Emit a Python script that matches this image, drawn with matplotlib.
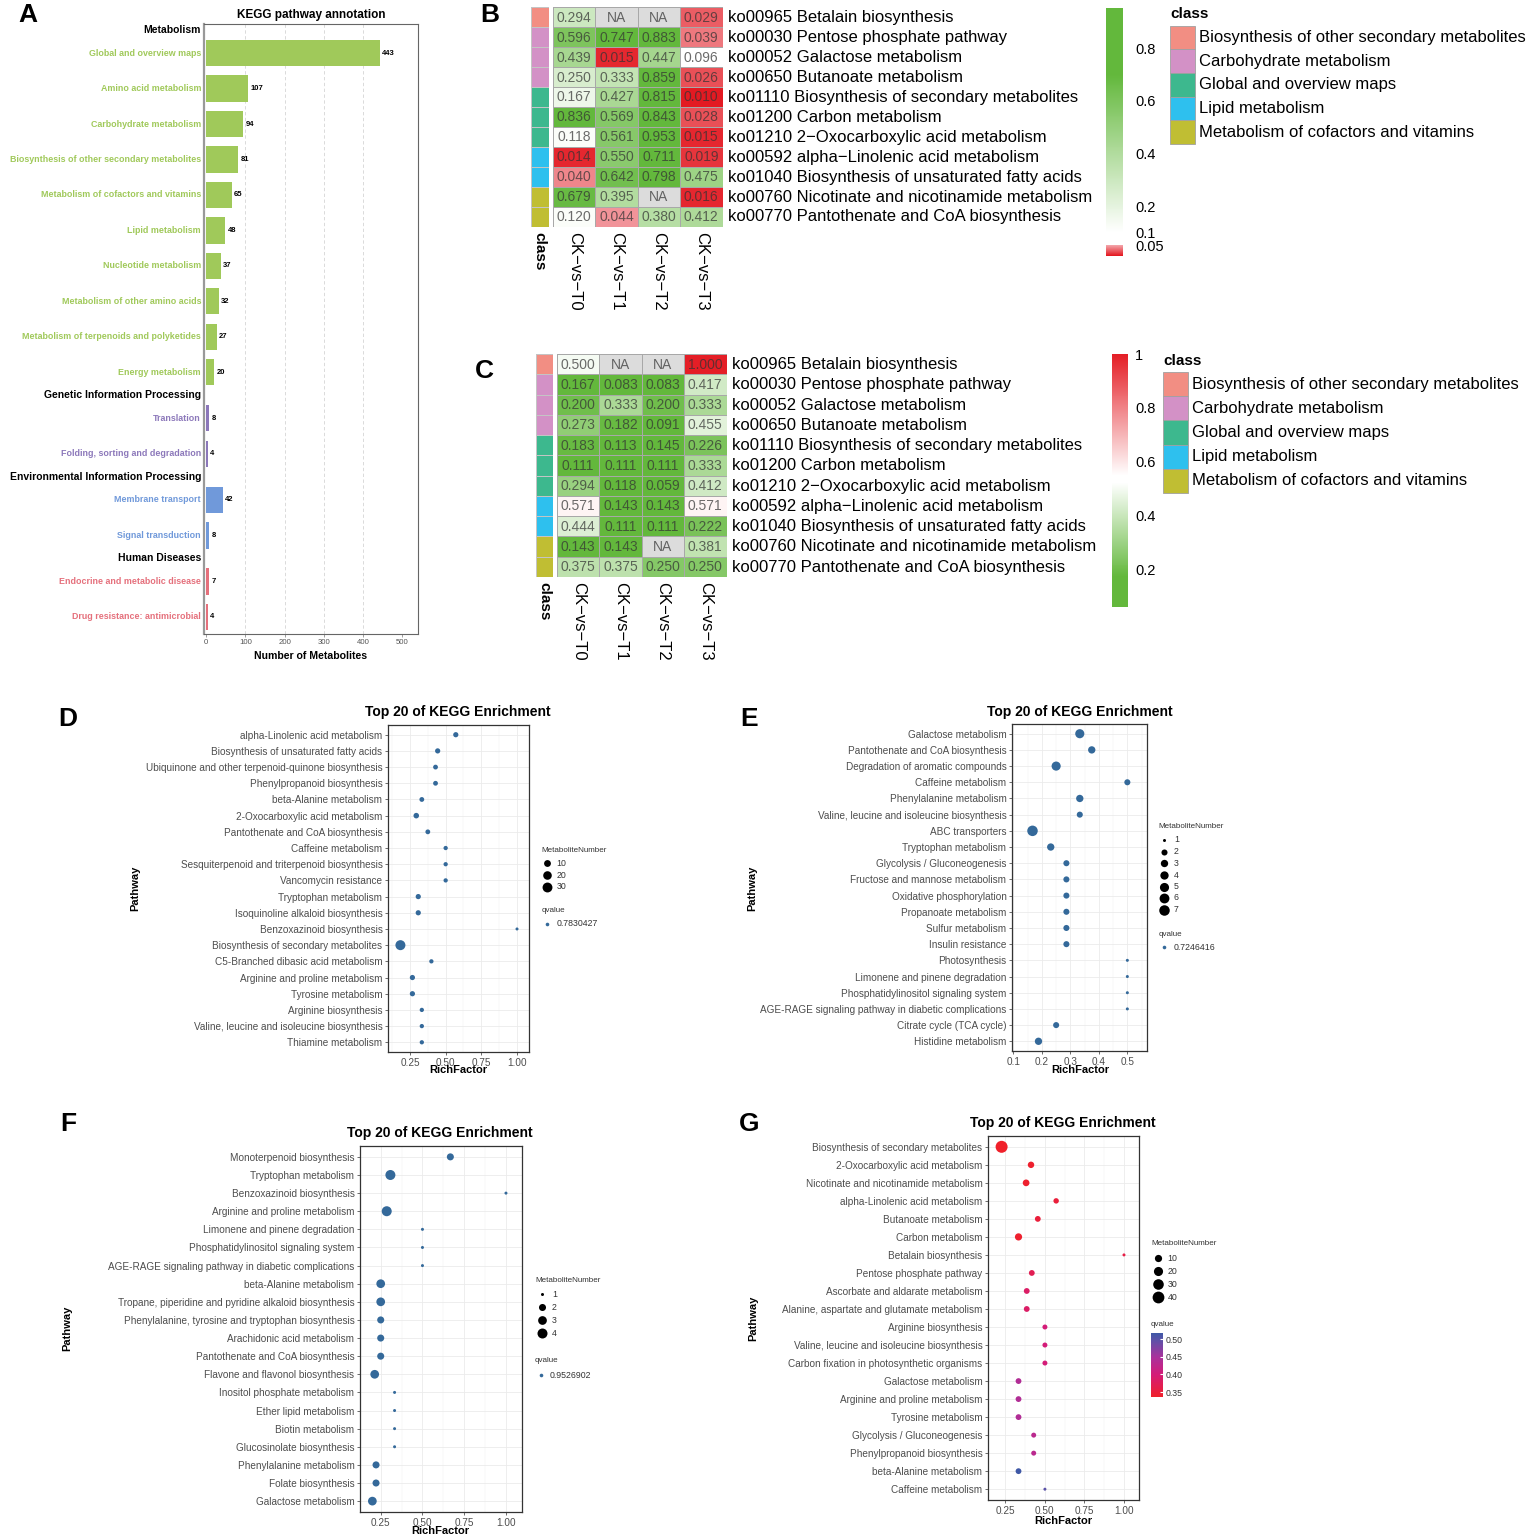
import numpy as np
import matplotlib
matplotlib.use('Agg')
import matplotlib.pyplot as plt
from matplotlib.colors import LinearSegmentedColormap, ListedColormap, Normalize
from matplotlib.patches import Rectangle

plt.rcParams['font.family'] = ['Liberation Sans', 'DejaVu Sans']

# ---------------- data ----------------
# panel A
a_groups = ['Metabolism', 'Genetic Information Processing',
            'Environmental Information Processing', 'Human Diseases']
a_labels = [['Global and overview maps', 'Amino acid metabolism', 'Carbohydrate metabolism',
             'Biosynthesis of other secondary metabolites', 'Metabolism of cofactors and vitamins',
             'Lipid metabolism', 'Nucleotide metabolism', 'Metabolism of other amino acids',
             'Metabolism of terpenoids and polyketides', 'Energy metabolism'],
            ['Translation', 'Folding, sorting and degradation'],
            ['Membrane transport', 'Signal transduction'],
            ['Endocrine and metabolic disease', 'Drug resistance: antimicrobial']]
a_values = [[443, 107, 94, 81, 65, 48, 37, 32, 27, 20], [8, 4], [42, 8], [7, 4]]
a_colors = ['#A0C95A', '#8C78BA', '#7099DA', '#E5707C']

# panels B and C
hm_rows = ['ko00965 Betalain biosynthesis', 'ko00030 Pentose phosphate pathway',
           'ko00052 Galactose metabolism', 'ko00650 Butanoate metabolism',
           'ko01110 Biosynthesis of secondary metabolites', 'ko01200 Carbon metabolism',
           'ko01210 2\u2212Oxocarboxylic acid metabolism', 'ko00592 alpha\u2212Linolenic acid metabolism',
           'ko01040 Biosynthesis of unsaturated fatty acids',
           'ko00760 Nicotinate and nicotinamide metabolism', 'ko00770 Pantothenate and CoA biosynthesis']
hm_cols = ['CK\u2212vs\u2212T0', 'CK\u2212vs\u2212T1', 'CK\u2212vs\u2212T2', 'CK\u2212vs\u2212T3']
hm_class = [0, 1, 1, 1, 2, 2, 2, 3, 3, 4, 4]
class_names = ['Biosynthesis of other secondary metabolites', 'Carbohydrate metabolism',
               'Global and overview maps', 'Lipid metabolism', 'Metabolism of cofactors and vitamins']
class_colors = ['#F28E83', '#D391C6', '#3DB88E', '#2EC0EE', '#C0BE33']
nan = np.nan
b_values = np.array([
    [0.294, nan, nan, 0.029],
    [0.596, 0.747, 0.883, 0.039],
    [0.439, 0.015, 0.447, 0.096],
    [0.250, 0.333, 0.859, 0.026],
    [0.167, 0.427, 0.815, 0.010],
    [0.836, 0.569, 0.843, 0.028],
    [0.118, 0.561, 0.953, 0.015],
    [0.014, 0.550, 0.711, 0.019],
    [0.040, 0.642, 0.798, 0.475],
    [0.679, 0.395, nan, 0.016],
    [0.120, 0.044, 0.380, 0.412]])
c_values = np.array([
    [0.500, nan, nan, 1.000],
    [0.167, 0.083, 0.083, 0.417],
    [0.200, 0.333, 0.200, 0.333],
    [0.273, 0.182, 0.091, 0.455],
    [0.183, 0.113, 0.145, 0.226],
    [0.111, 0.111, 0.111, 0.333],
    [0.294, 0.118, 0.059, 0.412],
    [0.571, 0.143, 0.143, 0.571],
    [0.444, 0.111, 0.111, 0.222],
    [0.143, 0.143, nan, 0.381],
    [0.375, 0.375, 0.250, 0.250]])

# panel D
d_path = ['alpha-Linolenic acid metabolism', 'Biosynthesis of unsaturated fatty acids',
          'Ubiquinone and other terpenoid-quinone biosynthesis', 'Phenylpropanoid biosynthesis',
          'beta-Alanine metabolism', '2-Oxocarboxylic acid metabolism',
          'Pantothenate and CoA biosynthesis', 'Caffeine metabolism',
          'Sesquiterpenoid and triterpenoid biosynthesis', 'Vancomycin resistance',
          'Tryptophan metabolism', 'Isoquinoline alkaloid biosynthesis', 'Benzoxazinoid biosynthesis',
          'Biosynthesis of secondary metabolites', 'C5-Branched dibasic acid metabolism',
          'Arginine and proline metabolism', 'Tyrosine metabolism', 'Arginine biosynthesis',
          'Valine, leucine and isoleucine biosynthesis', 'Thiamine metabolism']
d_rf = [0.571, 0.444, 0.429, 0.429, 0.333, 0.294, 0.375, 0.5, 0.5, 0.5,
        0.308, 0.308, 1.0, 0.183, 0.4, 0.267, 0.267, 0.333, 0.333, 0.333]
d_num = [4, 4, 3, 3, 3, 5, 3, 2, 2, 2, 4, 4, 1, 31, 2, 4, 4, 2, 2, 2]

# panel E
e_path = ['Galactose metabolism', 'Pantothenate and CoA biosynthesis',
          'Degradation of aromatic compounds', 'Caffeine metabolism', 'Phenylalanine metabolism',
          'Valine, leucine and isoleucine biosynthesis', 'ABC transporters', 'Tryptophan metabolism',
          'Glycolysis / Gluconeogenesis', 'Fructose and mannose metabolism',
          'Oxidative phosphorylation', 'Propanoate metabolism', 'Sulfur metabolism',
          'Insulin resistance', 'Photosynthesis', 'Limonene and pinene degradation',
          'Phosphatidylinositol signaling system',
          'AGE-RAGE signaling pathway in diabetic complications', 'Citrate cycle (TCA cycle)',
          'Histidine metabolism']
e_rf = [0.333, 0.375, 0.25, 0.5, 0.333, 0.333, 0.167, 0.231, 0.286, 0.286,
        0.286, 0.286, 0.286, 0.286, 0.5, 0.5, 0.5, 0.5, 0.25, 0.188]
e_num = [5, 3, 5, 2, 3, 2, 7, 3, 2, 2, 2, 2, 2, 2, 1, 1, 1, 1, 2, 3]

# panel F
f_path = ['Monoterpenoid biosynthesis', 'Tryptophan metabolism', 'Benzoxazinoid biosynthesis',
          'Arginine and proline metabolism', 'Limonene and pinene degradation',
          'Phosphatidylinositol signaling system',
          'AGE-RAGE signaling pathway in diabetic complications', 'beta-Alanine metabolism',
          'Tropane, piperidine and pyridine alkaloid biosynthesis',
          'Phenylalanine, tyrosine and tryptophan biosynthesis', 'Arachidonic acid metabolism',
          'Pantothenate and CoA biosynthesis', 'Flavone and flavonol biosynthesis',
          'Inositol phosphate metabolism', 'Ether lipid metabolism', 'Biotin metabolism',
          'Glucosinolate biosynthesis', 'Phenylalanine metabolism', 'Folate biosynthesis',
          'Galactose metabolism']
f_rf = [0.667, 0.308, 1.0, 0.286, 0.5, 0.5, 0.5, 0.25, 0.25, 0.25, 0.25, 0.25, 0.214,
        0.333, 0.333, 0.333, 0.333, 0.222, 0.222, 0.2]
f_num = [2, 4, 1, 4, 1, 1, 1, 3, 3, 2, 2, 2, 3, 1, 1, 1, 1, 2, 2, 3]

# panel G
g_path = ['Biosynthesis of secondary metabolites', '2-Oxocarboxylic acid metabolism',
          'Nicotinate and nicotinamide metabolism', 'alpha-Linolenic acid metabolism',
          'Butanoate metabolism', 'Carbon metabolism', 'Betalain biosynthesis',
          'Pentose phosphate pathway', 'Ascorbate and aldarate metabolism',
          'Alanine, aspartate and glutamate metabolism', 'Arginine biosynthesis',
          'Valine, leucine and isoleucine biosynthesis',
          'Carbon fixation in photosynthetic organisms', 'Galactose metabolism',
          'Arginine and proline metabolism', 'Tyrosine metabolism',
          'Glycolysis / Gluconeogenesis', 'Phenylpropanoid biosynthesis',
          'beta-Alanine metabolism', 'Caffeine metabolism']
g_rf = [0.226, 0.412, 0.381, 0.571, 0.455, 0.333, 1.0, 0.417, 0.385, 0.385,
        0.5, 0.5, 0.5, 0.333, 0.333, 0.333, 0.429, 0.429, 0.333, 0.5]
g_num = [42, 7, 8, 4, 5, 10, 1, 5, 5, 5, 3, 3, 3, 5, 5, 5, 3, 3, 5, 1]
g_q = [0.336, 0.34, 0.34, 0.35, 0.35, 0.34, 0.36, 0.37, 0.385, 0.385,
       0.40, 0.40, 0.40, 0.44, 0.44, 0.44, 0.43, 0.43, 0.518, 0.50]

# ---------------- figure ----------------
W, H = 1532, 1539
fig = plt.figure(figsize=(W / 100, H / 100), dpi=100)
fig.patch.set_facecolor('white')


def px_axes(x0, y0, x1, y1, **kw):
    return fig.add_axes([x0 / W, 1 - y1 / H, (x1 - x0) / W, (y1 - y0) / H], **kw)


ov = fig.add_axes([0, 0, 1, 1], zorder=10)
ov.set_xlim(0, W)
ov.set_ylim(H, 0)
ov.autoscale(False)
ov.axis('off')
ov.patch.set_visible(False)

for lab, (lx, ly) in zip('ABCDEFG', [(28, 15), (490, 15), (484, 371), (68, 719),
                                      (749, 719), (68, 1124), (749, 1124)]):
    ov.text(lx, ly, lab, fontsize=19, fontweight='bold', ha='center', va='center')

# ---------- A ----------
ax = px_axes(204, 24, 418, 634)
y = 0.0
for grp, labs, vals, col in zip(a_groups, a_labels, a_values, a_colors):
    ax.text(-0.014, y, grp, transform=ax.get_yaxis_transform(), ha='right', va='center',
            fontsize=7.5, fontweight='bold')
    y += 0.65
    for lab, v in zip(labs, vals):
        ax.barh(y, v, height=0.74, color=col, zorder=3)
        ax.text(v + 6, y, str(v), fontsize=5.5, fontweight='bold', va='center')
        ax.text(-0.014, y, lab, transform=ax.get_yaxis_transform(), ha='right', va='center',
                fontsize=6.4, fontweight='bold', color=col)
        y += 1
    y += -1 + 0.65
ax.set_ylim(17.03, -0.17)
ax.set_xlim(-5.9, 540.8)
a_ticks = [0, 100, 200, 300, 400, 500]
ax.set_xticks(a_ticks)
ax.set_yticks([])
ax.vlines([t for t in a_ticks if 0 < t < 500], -0.17, 17.03, colors='#d4d4d4',
          linestyles=(0, (4, 3)), linewidth=0.6, zorder=0)
ax.tick_params(axis='x', labelsize=5.6, labelcolor='#555555', length=2, width=0.5,
               color='#777777', pad=1.5)
for sp in ax.spines.values():
    sp.set_color('#666666')
    sp.set_linewidth(0.8)
ax.spines['left'].set_linewidth(1.6)
ax.spines['left'].set_color('#999999')
ov.text(311, 15, 'KEGG pathway annotation', fontsize=8.5, fontweight='bold',
        ha='center', va='center')
ov.text(311, 656, 'Number of Metabolites', fontsize=7.6, fontweight='bold',
        ha='center', va='center')

# ---------- B & C heatmaps ----------
class_cmap = ListedColormap(class_colors)
green = '#63B83C'


def heat_panel(box, cls_box, values, cmap, norm, cb_box, cb_ticks, cb_labels, cb_pad, leg_x, leg_y, leg_h):
    x0, y0, x1, y1 = box
    rh = (y1 - y0) / len(hm_rows)
    cw = (x1 - x0) / len(hm_cols)
    ax = px_axes(*box)
    mesh = ax.pcolormesh(np.ma.masked_invalid(values), cmap=cmap, norm=norm,
                         edgecolors='#a8a8a8', linewidth=0.7)
    ax.set_xlim(0, len(hm_cols))
    ax.set_ylim(len(hm_rows), 0)
    ax.axis('off')
    for i, row in enumerate(values):
        for j, v in enumerate(row):
            ax.text(j + 0.5, i + 0.52, 'NA' if np.isnan(v) else f'{v:.3f}', ha='center',
                    va='center', fontsize=10, color='#333333', alpha=0.72)
        ax.text(len(hm_cols) + 5.5 / cw, i + 0.52, hm_rows[i], ha='left', va='center', fontsize=12)
    for j, c in enumerate(hm_cols):
        ax.text(j + 0.5, len(hm_rows) + 5.5 / rh, c, rotation=270, ha='center', va='top', fontsize=12)
    cx = px_axes(*cls_box)
    cx.pcolormesh(np.array(hm_class)[:, None], cmap=class_cmap, vmin=-0.5, vmax=4.5,
                  edgecolors='#c4c4c4', linewidth=0.5)
    cx.set_xlim(0, 1)
    cx.set_ylim(len(hm_rows), 0)
    cx.axis('off')
    cx.text(0.5, len(hm_rows) + 5.5 / rh, 'class', rotation=270, ha='center', va='top',
            fontsize=11, fontweight='bold')
    cax = px_axes(*cb_box)
    cb = fig.colorbar(mesh, cax=cax)
    cb.outline.set_visible(False)
    cb.set_ticks(cb_ticks)
    cb.set_ticklabels(cb_labels)
    cax.tick_params(length=0, labelsize=10.5, pad=cb_pad)
    ov.text(leg_x, leg_y - 11, 'class', fontsize=11, fontweight='bold', va='center')
    for k, (nm, col) in enumerate(zip(class_names, class_colors)):
        ov.add_patch(Rectangle((leg_x, leg_y + k * leg_h), 25, leg_h, facecolor=col,
                               edgecolor='#a0a0a0', linewidth=0.6))
        ov.text(leg_x + 29, leg_y + (k + 0.5) * leg_h, nm, fontsize=12, va='center')


b_norm = Normalize(0.010, 0.953)


def bpos(v):
    return (v - b_norm.vmin) / (b_norm.vmax - b_norm.vmin)


b_cmap = LinearSegmentedColormap.from_list('b', [
    (0.0, '#E31A22'), (bpos(0.049), '#F3A8AD'), (bpos(0.0505), 'white'),
    (bpos(0.1), 'white'), (bpos(0.7), green), (1.0, green)]).with_extremes(bad='#DCDCDC')
heat_panel((553, 7.5, 722.5, 226.5), (531, 7.5, 548.5, 226.5), b_values, b_cmap, b_norm,
           (1106, 8, 1123, 256), [0.05, 0.1, 0.2, 0.4, 0.6, 0.8],
           ['0.05', '0.1', '0.2', '0.4', '0.6', '0.8'], 9, 1170, 25.5, 23.7)

c_norm = Normalize(0.059, 1.0)


def cpos(v):
    return (v - c_norm.vmin) / (c_norm.vmax - c_norm.vmin)


c_cmap = LinearSegmentedColormap.from_list('c', [
    (0.0, green), (cpos(0.17), green), (cpos(0.52), 'white'), (cpos(0.55), 'white'),
    (1.0, '#E41E26')]).with_extremes(bad='#DCDCDC')
heat_panel((557, 354, 726.5, 577), (535.5, 354, 552.5, 577), c_values, c_cmap, c_norm,
           (1112, 354, 1128, 607), [0.2, 0.4, 0.6, 0.8, 1.0],
           ['0.2', '0.4', '0.6', '0.8', '1'], 5, 1163, 372, 24.2)

# ---------- D-G dot plots ----------
dot_col = '#34699A'


def dot_d(n, lim, rng):
    n = np.asarray(n, float)
    return rng[0] + (rng[1] - rng[0]) * np.sqrt((n - lim[0]) / (lim[1] - lim[0]))


def dot_panel(box, paths, rf, num, xlim, xticks, xlabels, lim, rng, q=None, cmap=None, qnorm=None):
    ax = px_axes(*box)
    ys = np.arange(1, len(paths) + 1)
    s = (dot_d(num, lim, rng) * 0.72) ** 2
    if cmap is None:
        sc = ax.scatter(rf, ys, s=s, color=dot_col, linewidths=0, zorder=3)
    else:
        sc = ax.scatter(rf, ys, s=s, c=q, cmap=cmap, norm=qnorm, linewidths=0, zorder=3)
    ax.set_xlim(*xlim)
    ax.set_ylim(len(paths) + 0.6, 0.4)
    ax.set_yticks(ys, paths)
    ax.set_xticks(xticks, xlabels)
    step = xticks[1] - xticks[0]
    minors = [t - step / 2 for t in xticks] + [xticks[-1] + step / 2]
    ax.set_xticks([m for m in minors if xlim[0] < m < xlim[1]], minor=True)
    ax.set_axisbelow(True)
    ax.grid(True, which='major', color='#EBEBEB', lw=0.6)
    ax.grid(True, which='minor', axis='x', color='#F2F2F2', lw=0.35)
    ax.tick_params(which='major', labelsize=7.2, labelcolor='#4D4D4D', length=2.5,
                   width=0.5, color='#333333', pad=1.5)
    ax.tick_params(which='minor', length=0)
    for sp in ax.spines.values():
        sp.set_color('#333333')
        sp.set_linewidth(0.9)
    return sc


def titles(cx, ty, px, py, ry):
    ov.text(cx, ty, 'Top 20 of KEGG Enrichment', fontsize=10, fontweight='bold',
            ha='center', va='center')
    ov.text(px, py, 'Pathway', fontsize=8, fontweight='bold', rotation=90,
            ha='center', va='center')
    ov.text(cx, ry, 'RichFactor', fontsize=8, fontweight='bold', ha='center', va='center')


def size_legend(x, ty, ys, breaks, lim, rng, dx, lx):
    ov.text(x, ty, 'MetaboliteNumber', fontsize=5.8, color='#333333', va='center')
    for yy, b in zip(ys, breaks):
        ov.scatter(x + dx, yy, s=(dot_d(b, lim, rng) * 0.72) ** 2, color='black', linewidths=0)
        ov.text(x + lx, yy, str(b), fontsize=6.3, color='#333333', va='center')


def q_legend(x, ty, iy, text):
    ov.text(x, ty, 'qvalue', fontsize=5.8, color='#333333', va='center')
    ov.scatter(x + 5.6, iy, s=(3.6 * 0.72) ** 2, color=dot_col, linewidths=0)
    ov.text(x + 15, iy, text, fontsize=6.3, color='#333333', va='center')


q_ticks = [0.25, 0.5, 0.75, 1.0]
q_labels = ['0.25', '0.50', '0.75', '1.00']

# D
d_lim, d_rng = (1, 31), (3, 10)
dot_panel((388, 725, 529, 1052), d_path, d_rf, d_num, (0.096, 1.084), q_ticks, q_labels, d_lim, d_rng)
titles(458, 712, 135, 888, 1070)
size_legend(541.5, 850, [863.3, 875, 886.7], [10, 20, 30], d_lim, d_rng, 5.6, 15)
q_legend(541.5, 910.7, 924, '0.7830427')

# E
e_lim, e_rng = (1, 7), (3, 10.5)
dot_panel((1012, 724, 1147, 1051), e_path, e_rf, e_num, (0.095, 0.569),
          [0.1, 0.2, 0.3, 0.4, 0.5], ['0.1', '0.2', '0.3', '0.4', '0.5'], e_lim, e_rng)
titles(1080, 712, 752, 888, 1070)
size_legend(1158.5, 826.7, [840, 851.7, 863.3, 875, 886.7, 898, 909.7], [1, 2, 3, 4, 5, 6, 7],
            e_lim, e_rng, 5.6, 15.3)
q_legend(1158.5, 934, 947, '0.7246416')

# F
f_lim, f_rng = (1, 4), (3, 10)
dot_panel((360, 1146, 522, 1512), f_path, f_rf, f_num, (0.126, 1.096), q_ticks, q_labels, f_lim, f_rng)
titles(440, 1133, 67, 1328, 1531)
size_legend(535, 1280, [1294.3, 1307.3, 1320.3, 1333.3], [1, 2, 3, 4], f_lim, f_rng, 6.5, 17)
q_legend(535, 1360.7, 1375.3, '0.9526902')

# G
g_lim, g_rng = (1, 42), (3, 12)
g_norm = Normalize(0.336, 0.518)


def gpos(v):
    return (v - g_norm.vmin) / (g_norm.vmax - g_norm.vmin)


g_cmap = LinearSegmentedColormap.from_list('g', [
    (0.0, '#F0202A'), (gpos(0.40), '#D41C78'), (gpos(0.45), '#A9319C'),
    (gpos(0.50), '#5A52A8'), (1.0, '#3F58A6')])
sc = dot_panel((988, 1136, 1139, 1500), g_path, g_rf, g_num, (0.14, 1.095), q_ticks, q_labels,
               g_lim, g_rng, q=g_q, cmap=g_cmap, qnorm=g_norm)
titles(1063, 1123, 753, 1318, 1521.5)
size_legend(1151, 1243.3, [1258.3, 1271.3, 1284.3, 1297.3], [10, 20, 30, 40], g_lim, g_rng, 6.7, 16.7)
ov.text(1151, 1324, 'qvalue', fontsize=5.8, color='#333333', va='center')
gcax = px_axes(1151, 1333, 1163, 1397)
gcb = fig.colorbar(sc, cax=gcax)
gcb.outline.set_visible(False)
gcb.set_ticks([0.35, 0.40, 0.45, 0.50])
gcb.set_ticklabels(['0.35', '0.40', '0.45', '0.50'])
gcax.tick_params(length=2.5, color='white', direction='in', labelsize=6.3,
                 labelcolor='#333333', pad=2)

fig.savefig('out.png', dpi=100)
